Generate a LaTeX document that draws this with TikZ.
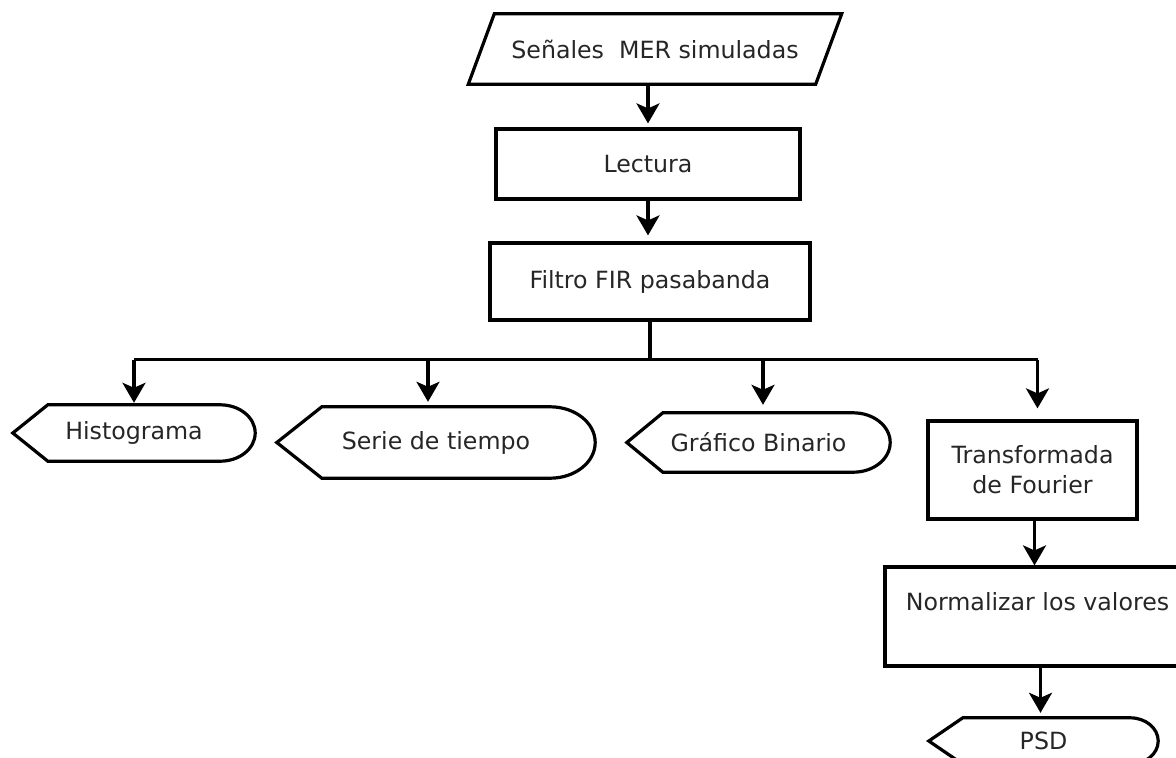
\documentclass[tikz,border=0pt]{standalone}
\usepackage{fontspec}
\setmainfont{DejaVu Sans}
\usetikzlibrary{arrows.meta,calc}
\newcommand\dispshape[3]{%
  \pgfmathsetmacro\dsk{0.448*#3}%
  \draw[shapeline] (#1.west) -- ([xshift=#2]#1.north west) -- ([xshift=-#3]#1.north east)
    .. controls ([xshift=-\dsk]#1.north east) and ($(#1.east)!0.552!(#1.north east)$) .. (#1.east)
    .. controls ($(#1.east)!0.552!(#1.south east)$) and ([xshift=-\dsk]#1.south east) .. ([xshift=-#3]#1.south east)
    -- ([xshift=#2]#1.south west) -- cycle;}
\begin{document}
\begin{tikzpicture}[x=1pt,y=-1pt,
  every node/.style={font=\fontsize{23.7}{30}\selectfont, text=black!85},
  shapeline/.style={line width=3.2pt, line join=miter},
  box/.style={draw, line width=3.2pt, rectangle, inner sep=2pt, align=center},
  disp/.style 2 args={minimum width=#1, minimum height=#2, inner sep=0pt},
  conn/.style={line width=3.2pt},
  arr/.style={line width=3.2pt, -{Stealth[width=23pt,length=20pt,inset=5pt]}}
]
\useasboundingbox (0,0) rectangle (1176,758);
\clip (0,0) rectangle (1176,758);

% input parallelogram
\node[minimum width=347, minimum height=70, inner sep=0pt] (in) at (655,49) {Señales\ \ MER simuladas};
\draw[shapeline] ([xshift=13]in.north west) -- ([xshift=13]in.north east)
  -- ([xshift=-13]in.south east) -- ([xshift=-13]in.south west) -- cycle;

\node[box, minimum width=304, minimum height=70] (lec) at (648,164) {Lectura};
\node[box, minimum width=320, minimum height=77] (fil) at (650,281.5) {Filtro FIR pasabanda};

\node[disp={242}{56}] (hist) at (134,433) {Histograma};
\dispshape{hist}{35}{35}
\node[disp={318}{71}] (serie) at (436,442.5) {Serie de tiempo};
\dispshape{serie}{45}{45}
\node[disp={263}{59}] (graf) at (758.5,442.5) {Gráfico Binario};
\dispshape{graf}{36}{37}

\node[box, minimum width=209, minimum height=98] (trans) at (1032.5,470) {Transformada\\de Fourier};
\node[box, minimum width=305, minimum height=99, text depth=30pt] (norm) at (1037.5,616.5) {Normalizar los valores};

\node[disp={229}{46}] (psd) at (1043.5,741) {PSD};
\dispshape{psd}{34}{28}

% connectors
\draw[arr, shorten >=4pt] (lec.north |- in.south) -- (lec.north);
\draw[arr, shorten >=6pt] (lec.south) -- (lec.south |- fil.north);

\coordinate (bj) at ($(fil.south)+(0,38)$);
\coordinate (bl) at (hist.north |- bj);
\coordinate (br) at ([xshift=5]trans.north |- bj);
\draw[conn] (fil.south) -- (bj);
\draw[conn] (bl) -- (br);

\draw[arr, shorten >=2pt] (bl) -- (hist.north);
\draw[arr, shorten >=5pt] ([xshift=-8]serie.north |- bj) -- ([xshift=-8]serie.north);
\draw[arr, shorten >=8pt] ([xshift=4.5]graf.north |- bj) -- ([xshift=4.5]graf.north);
\draw[arr, shorten >=11pt] (br) -- (br |- trans.north);

\draw[arr] ([xshift=2]trans.south) -- ([xshift=2]trans.south |- norm.north);
\draw[arr, shorten >=5pt] ([xshift=-3]psd.north |- norm.south) -- ([xshift=-3]psd.north);
\end{tikzpicture}
\end{document}
